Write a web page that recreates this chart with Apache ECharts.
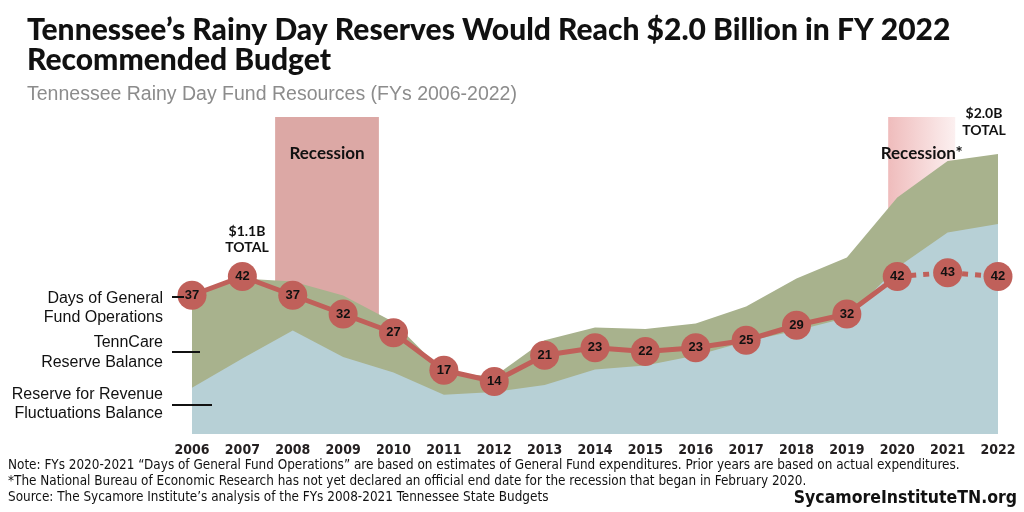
<!DOCTYPE html>
<html><head><meta charset="utf-8">
<script src="https://cdn.jsdelivr.net/npm/echarts@6/dist/echarts.min.js"></script>
<style>html,body{margin:0;padding:0;background:#fff}#c{width:1024px;height:512px}</style>
</head><body><div id="c"></div>
<script>
const years = [2006,2007,2008,2009,2010,2011,2012,2013,2014,2015,2016,2017,2018,2019,2020,2021,2022];
// $ billions
const revenueFluctuations = [0.33,0.54,0.74,0.55,0.44,0.28,0.30,0.35,0.46,0.49,0.56,0.66,0.74,0.83,1.19,1.44,1.50];
const tennCareReserve = [0.66,0.57,0.35,0.44,0.36,0.16,0.11,0.32,0.30,0.26,0.23,0.25,0.37,0.43,0.50,0.51,0.50];
const daysOfOperations = [37,42,37,32,27,17,14,21,23,22,23,25,29,32,42,43,42];
const recessions = [[2007.65, 2009.71, 'Recession'], [2019.82, 2021.15, 'Recession*']];
const estimateStart = 2020;

const chart = echarts.init(document.getElementById('c'));
const pair = (arr) => years.map((y, i) => [y, arr[i]]);
const totals = years.map((y, i) => [y, +(revenueFluctuations[i] + tennCareReserve[i]).toFixed(3)]);
const solidDays = pair(daysOfOperations).filter(d => d[0] <= estimateStart);
const dashDays = pair(daysOfOperations).filter(d => d[0] >= estimateStart);
const narrow = "'Liberation Sans Narrow','DejaVu Sans Condensed','Liberation Sans',sans-serif";

chart.setOption({
  backgroundColor: '#fff',
  animation: false,
  grid: { left: 192, right: 26, top: 117, bottom: 78 },
  xAxis: {
    type: 'value', min: 2006, max: 2022, interval: 1,
    axisLine: { show: false }, axisTick: { show: false }, splitLine: { show: false },
    axisLabel: { formatter: v => String(v), fontFamily: narrow, fontWeight: 'bold', fontSize: 14, color: '#231f20', margin: 9 }
  },
  yAxis: [
    { type: 'value', min: 0, max: 317 / 140, show: false, splitLine: { show: false } },
    { type: 'value', min: 0, max: 317 / 3.75, show: false, splitLine: { show: false } }
  ],
  series: [
    {
      type: 'line', data: [], z: 0, silent: true,
      markArea: {
        silent: true,
        label: { position: 'insideTop', distance: 28, fontFamily: 'Lato', fontWeight: 'bold', fontSize: 17, color: '#111' },
        data: [
          [{ xAxis: recessions[0][0], name: recessions[0][2], itemStyle: { color: '#dca8a5' } }, { xAxis: recessions[0][1] }],
          [{ xAxis: recessions[1][0], name: recessions[1][2], itemStyle: { color: new echarts.graphic.LinearGradient(0,0,1,0,[{offset:0,color:'#efbcbc'},{offset:1,color:'#fcf0f0'}]) } }, { xAxis: recessions[1][1] }]
        ]
      }
    },
    {
      name: 'TennCare Reserve Balance (total top)', type: 'line', z: 2,
      data: totals, symbol: 'none', lineStyle: { width: 0 },
      areaStyle: { color: '#a8b28d', opacity: 1 }
    },
    {
      name: 'Reserve for Revenue Fluctuations Balance', type: 'line', z: 3,
      data: pair(revenueFluctuations), symbol: 'none', lineStyle: { width: 0 },
      areaStyle: { color: '#b7d0d6', opacity: 1 }
    },
    {
      type: 'line', yAxisIndex: 1, z: 5, data: solidDays, symbol: 'none',
      lineStyle: { color: '#c0605a', width: 5 }
    },
    {
      type: 'line', yAxisIndex: 1, z: 5, data: dashDays, symbol: 'none',
      lineStyle: { color: '#c0605a', width: 5, type: [6, 7] }
    },
    {
      name: 'Days of General Fund Operations', type: 'scatter', yAxisIndex: 1, z: 6,
      data: pair(daysOfOperations), symbolSize: 29,
      itemStyle: { color: '#c0605a', opacity: 1 },
      label: { show: true, position: 'inside', formatter: p => String(p.value[1]), fontFamily: 'Liberation Sans', fontWeight: 'bold', fontSize: 13, color: '#111' }
    }
  ],
  graphic: [
    { type: 'text', left: 27, top: 15, style: { text: 'Tennessee\u2019s Rainy Day Reserves Would Reach $2.0 Billion in FY 2022', font: '900 30px Lato', fill: '#111' } },
    { type: 'text', left: 27, top: 45, style: { text: 'Recommended Budget', font: '900 30px Lato', fill: '#111' } },
    { type: 'text', left: 27, top: 85, style: { text: 'Tennessee Rainy Day Fund Resources (FYs 2006-2022)', font: '19.5px "Liberation Sans"', fill: '#8c8c8c' } },
    { type: 'text', x: 247, y: 231, style: { text: '$1.1B', font: 'bold 14px Lato', fill: '#111', align: 'center', verticalAlign: 'middle' } },
    { type: 'text', x: 247, y: 247, style: { text: 'TOTAL', font: 'bold 14px Lato', fill: '#111', align: 'center', verticalAlign: 'middle' } },
    { type: 'text', x: 984, y: 113, style: { text: '$2.0B', font: 'bold 14px Lato', fill: '#111', align: 'center', verticalAlign: 'middle' } },
    { type: 'text', x: 984, y: 130, style: { text: 'TOTAL', font: 'bold 14px Lato', fill: '#111', align: 'center', verticalAlign: 'middle' } },
    { type: 'text', x: 163, y: 299, style: { text: 'Days of General', font: '16px "Liberation Sans"', fill: '#111', align: 'right', verticalAlign: 'middle' } },
    { type: 'text', x: 163, y: 318, style: { text: 'Fund Operations', font: '16px "Liberation Sans"', fill: '#111', align: 'right', verticalAlign: 'middle' } },
    { type: 'text', x: 163, y: 343, style: { text: 'TennCare', font: '16px "Liberation Sans"', fill: '#111', align: 'right', verticalAlign: 'middle' } },
    { type: 'text', x: 163, y: 363, style: { text: 'Reserve Balance', font: '16px "Liberation Sans"', fill: '#111', align: 'right', verticalAlign: 'middle' } },
    { type: 'text', x: 163, y: 395, style: { text: 'Reserve for Revenue', font: '16px "Liberation Sans"', fill: '#111', align: 'right', verticalAlign: 'middle' } },
    { type: 'text', x: 163, y: 414, style: { text: 'Fluctuations Balance', font: '16px "Liberation Sans"', fill: '#111', align: 'right', verticalAlign: 'middle' } },
    { type: 'line', shape: { x1: 172, y1: 297, x2: 184, y2: 297 }, style: { stroke: '#111', lineWidth: 2 }, z: 10 },
    { type: 'line', shape: { x1: 172, y1: 352, x2: 200, y2: 352 }, style: { stroke: '#111', lineWidth: 2 }, z: 10 },
    { type: 'line', shape: { x1: 172, y1: 405, x2: 212, y2: 405 }, style: { stroke: '#111', lineWidth: 2 }, z: 10 },
    { type: 'text', left: 8, top: 459, style: { text: 'Note: FYs 2020-2021 \u201cDays of General Fund Operations\u201d are based on estimates of General Fund expenditures. Prior years are based on actual expenditures.', font: '13.4px ' + narrow, fill: '#111' } },
    { type: 'text', left: 8, top: 475, style: { text: '*The National Bureau of Economic Research has not yet declared an official end date for the recession that began in February 2020.', font: '13.4px ' + narrow, fill: '#111' } },
    { type: 'text', left: 8, top: 491, style: { text: 'Source: The Sycamore Institute\u2019s analysis of the FYs 2008-2021 Tennessee State Budgets', font: '13.4px ' + narrow, fill: '#111' } },
    { type: 'text', right: 7, top: 489, style: { text: 'SycamoreInstituteTN.org', font: 'bold 17.5px ' + narrow, fill: '#111' } }
  ]
});
</script></body></html>
